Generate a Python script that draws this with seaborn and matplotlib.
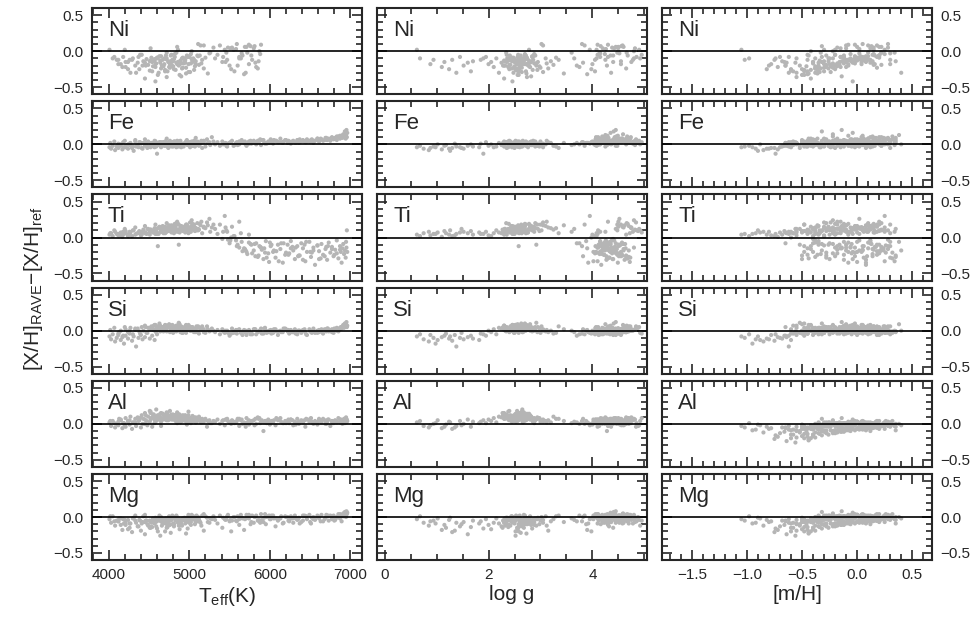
import numpy as np
import pandas as pd
import matplotlib
matplotlib.use('Agg')
import matplotlib.pyplot as plt
import seaborn as sns
from matplotlib.ticker import MultipleLocator

nan = np.nan

# one value per star; blocks of rows: metal-poor giants (3), giants (9),
# cool dwarfs (3), warm dwarfs (5), hot dwarfs (5), clump giants (6), dwarfs (6)
teff = [
    4010, 4030, 4050, 4080, 4100, 4120, 4150, 4170,
    4190, 4210, 4240, 4260, 4290, 4310, 4340, 4370,
    4400, 4420, 4450, 4480, 4510, 4540, 4570, 4600,
    4120, 4150, 4180, 4210, 4240, 4270, 4300, 4330,
    4360, 4380, 4410, 4430, 4450, 4470, 4490, 4510,
    4530, 4550, 4570, 4590, 4610, 4630, 4650, 4670,
    4690, 4700, 4720, 4740, 4750, 4770, 4780, 4800,
    4810, 4830, 4840, 4860, 4870, 4890, 4900, 4920,
    4930, 4950, 4960, 4980, 4990, 5010, 5020, 5040,
    5050, 5070, 5080, 5100, 5120, 5140, 5160, 5180,
    4460, 4520, 4580, 4640, 4710, 4760, 4820, 4880,
    4940, 5000, 5060, 5110, 5150, 5200, 5230, 5260,
    4020, 4070, 4130, 4200, 4260, 4330, 4390, 4450,
    4520, 4580, 4650, 4720, 4790, 4850, 4910, 4970,
    5030, 5080, 5130, 5180, 5220, 5250, 5280, 5300,
    5320, 5350, 5380, 5410, 5440, 5470, 5500, 5530,
    5560, 5590, 5620, 5650, 5680, 5710, 5740, 5770,
    5800, 5830, 5860, 5890, 5920, 5950, 5980, 6010,
    6040, 6070, 6100, 6130, 6160, 6190, 5460, 5520,
    5580, 5640, 5700, 5760, 5820, 5880, 5940, 6000,
    6220, 6240, 6260, 6290, 6310, 6340, 6360, 6390,
    6410, 6440, 6460, 6490, 6510, 6540, 6560, 6590,
    6610, 6640, 6660, 6690, 6710, 6730, 6750, 6770,
    6790, 6810, 6830, 6850, 6870, 6880, 6890, 6900,
    6910, 6920, 6930, 6940, 6945, 6950, 6955, 6960,
    4540, 4610, 4680, 4730, 4790, 4850, 4910, 4970,
    4560, 4620, 4690, 4760, 4820, 4880, 4950, 5030,
    4580, 4650, 4700, 4770, 4840, 4900, 4990, 5060,
    4600, 4660, 4720, 4780, 4860, 4920, 5000, 5080,
    4520, 4640, 4710, 4800, 4870, 4940, 5020, 5090,
    4570, 4670, 4740, 4810, 4890, 4960, 5040, 5110,
    5420, 5510, 5600, 5690, 5780, 5870, 5960, 6050,
    6140, 6230, 6320, 6410, 6500, 6590, 6680, 6770,
    5450, 5550, 5660, 5740, 5850, 5930, 6020, 6110,
    6200, 6280, 6370, 6450, 6540, 6630, 6720, 6830,
    5480, 5620, 5720, 5810, 5900, 5990, 6080, 6170,
    6260, 6350, 6430, 6520, 6610, 6700, 6800, 6870,
]

logg = [
    0.62, 0.75, 0.68, 0.85, 0.94, 0.88, 1.02, 1.10,
    0.98, 1.15, 1.24, 1.18, 1.30, 1.26, 1.38, 1.45,
    1.35, 1.52, 1.60, 1.48, 1.70, 1.66, 1.82, 1.90,
    1.85, 2.00, 1.95, 2.10, 2.05, 2.20, 2.15, 2.30,
    2.25, 2.40, 2.35, 2.45, 2.30, 2.50, 2.42, 2.55,
    2.48, 2.60, 2.52, 2.65, 2.58, 2.70, 2.45, 2.62,
    2.55, 2.72, 2.68, 2.50, 2.80, 2.62, 2.75, 2.58,
    2.70, 2.85, 2.60, 2.78, 2.92, 2.66, 2.82, 2.74,
    2.90, 2.76, 3.00, 2.84, 2.68, 3.05, 2.88, 2.95,
    3.10, 2.98, 3.20, 2.90, 3.25, 3.05, 3.35, 3.15,
    2.28, 2.38, 2.46, 2.52, 2.60, 2.64, 2.56, 2.72,
    2.80, 2.86, 2.94, 3.02, 3.12, 3.30, 3.45, 3.60,
    4.72, 4.85, 4.65, 4.90, 4.78, 4.60, 4.95, 4.70,
    4.82, 4.55, 4.88, 4.66, 4.75, 4.50, 4.92, 4.62,
    4.80, 4.45, 4.68, 4.58, 4.84, 4.52, 4.74, 4.48,
    3.65, 4.10, 3.85, 4.40, 3.95, 4.25, 3.70, 4.50,
    4.05, 3.80, 4.30, 4.15, 3.90, 4.45, 4.00, 4.35,
    4.20, 3.75, 4.55, 4.10, 4.28, 3.88, 4.38, 4.18,
    4.02, 4.32, 4.12, 4.42, 3.92, 4.22, 4.48, 3.98,
    4.26, 4.08, 4.36, 4.16, 3.82, 4.24, 4.06, 4.34,
    4.30, 4.50, 4.15, 4.60, 4.40, 4.20, 4.65, 4.35,
    4.45, 4.10, 4.55, 4.25, 4.70, 4.37, 4.17, 4.53,
    4.33, 4.63, 4.23, 4.47, 4.27, 4.57, 4.13, 4.43,
    4.51, 4.21, 4.39, 4.67, 4.29, 4.07, 4.49, 4.31,
    4.59, 4.19, 4.41, 4.73, 4.25, 4.45, 4.11, 4.35,
    2.35, 2.42, 2.50, 2.58, 2.46, 2.66, 2.54, 2.72,
    2.30, 2.48, 2.62, 2.40, 2.70, 2.56, 2.80, 2.44,
    2.38, 2.60, 2.52, 2.68, 2.34, 2.76, 2.64, 2.86,
    2.45, 2.32, 2.74, 2.57, 2.82, 2.49, 2.69, 2.61,
    2.27, 2.55, 2.41, 2.78, 2.63, 2.36, 2.88, 2.53,
    2.43, 2.67, 2.31, 2.59, 2.47, 2.73, 2.39, 2.84,
    4.15, 4.42, 4.28, 4.60, 4.05, 4.50, 4.33, 4.70,
    4.22, 4.48, 4.10, 4.62, 4.36, 4.18, 4.55, 4.26,
    4.75, 4.08, 4.40, 4.30, 4.65, 4.20, 4.52, 4.02,
    4.44, 4.12, 4.58, 4.34, 4.24, 4.68, 4.06, 4.46,
    4.38, 4.80, 4.14, 4.56, 4.32, 4.72, 4.16, 4.45,
    4.64, 4.27, 4.50, 4.09, 4.39, 4.19, 4.57, 4.29,
]

mh = [
    -1.05, -0.92, -0.98, -0.85, -1.02, -0.78, -0.88, -0.72,
    -0.95, -0.66, -0.82, -0.58, -0.75, -0.90, -0.62, -0.70,
    -0.55, -0.80, -0.64, -0.52, -0.68, -0.48, -0.60, -0.74,
    -0.45, -0.30, -0.62, -0.15, -0.40, -0.55, -0.25, -0.08,
    -0.35, -0.50, -0.20, -0.05, -0.42, 0.02, -0.28, -0.60,
    -0.12, -0.38, 0.05, -0.22, -0.48, -0.02, -0.33, 0.10,
    -0.18, -0.58, -0.26, 0.08, -0.10, -0.44, 0.15, -0.30,
    -0.06, -0.36, 0.12, -0.20, -0.52, 0.00, -0.14, 0.20,
    -0.40, -0.08, 0.18, -0.32, 0.04, -0.24, 0.25, -0.16,
    -0.02, -0.46, 0.14, -0.28, 0.22, -0.10, 0.30, -0.38,
    -0.65, -0.34, -0.04, -0.56, 0.06, -0.22, -0.12, 0.16,
    -0.26, 0.08, -0.48, 0.28, -0.18, 0.02, -0.36, 0.34,
    -0.20, 0.05, -0.35, 0.15, -0.10, 0.25, -0.45, 0.00,
    -0.15, 0.30, -0.28, 0.10, -0.05, 0.20, -0.38, 0.08,
    -0.22, 0.35, -0.12, 0.18, -0.30, 0.02, 0.12, -0.18,
    -0.55, -0.20, 0.10, -0.40, 0.25, -0.05, -0.65, 0.15,
    -0.30, 0.05, -0.15, 0.30, -0.45, 0.00, -0.25, 0.20,
    -0.10, -0.35, 0.35, -0.02, -0.50, 0.12, -0.18, 0.28,
    -0.08, -0.28, 0.18, -0.42, 0.08, -0.12, 0.22, -0.60,
    0.02, -0.22, 0.40, -0.32, 0.14, -0.06, 0.26, -0.38,
    -0.10, 0.20, -0.35, 0.05, -0.25, 0.30, -0.50, 0.12,
    -0.15, 0.25, -0.40, 0.00, 0.35, -0.20, 0.08, -0.30,
    0.18, -0.05, -0.45, 0.28, -0.12, 0.10, -0.28, 0.22,
    -0.02, 0.15, -0.38, 0.32, -0.18, 0.04, -0.08, 0.24,
    -0.22, 0.14, -0.32, 0.06, 0.38, -0.14, 0.20, -0.04,
    -0.32, 0.05, -0.18, -0.45, 0.12, -0.08, -0.26, 0.20,
    -0.12, -0.38, 0.02, -0.22, 0.15, -0.50, -0.04, 0.08,
    -0.28, 0.10, -0.42, -0.14, 0.22, -0.02, -0.34, 0.04,
    0.00, -0.20, -0.55, 0.14, -0.10, -0.30, 0.18, -0.16,
    -0.40, -0.06, 0.16, -0.24, -0.48, 0.06, -0.12, 0.25,
    0.09, -0.35, -0.02, -0.20, 0.11, -0.44, -0.08, 0.03,
    -0.15, 0.12, -0.35, 0.22, -0.05, -0.42, 0.30, 0.02,
    -0.25, 0.18, -0.10, 0.08, -0.48, 0.26, -0.20, 0.14,
    0.04, -0.30, 0.20, -0.08, -0.38, 0.10, -0.16, 0.34,
    -0.02, 0.16, -0.28, -0.12, 0.24, -0.44, 0.06, -0.22,
    0.28, -0.06, -0.33, 0.13, -0.18, 0.00, 0.21, -0.40,
    -0.14, 0.09, -0.26, 0.32, -0.04, 0.17, -0.36, 0.05,
]

ni = [
    0.02, nan, -0.10, nan, -0.12, -0.18, nan, -0.22,
    nan, -0.15, -0.25, nan, -0.12, nan, -0.30, -0.08,
    nan, -0.20, -0.16, nan, -0.14, -0.28, nan, -0.10,
    -0.12, -0.18, -0.08, -0.22, -0.15, -0.30, -0.10, -0.20,
    -0.16, -0.25, -0.05, -0.14, -0.38, -0.11, -0.19, -0.27,
    -0.09, -0.21, -0.13, -0.17, -0.33, -0.07, -0.24, -0.12,
    -0.18, -0.28, -0.10, -0.15, -0.22, -0.06, -0.19, -0.14,
    -0.11, -0.26, -0.16, 0.02, -0.20, -0.13, -0.35, -0.09,
    -0.17, -0.12, -0.23, -0.08, -0.18, -0.29, -0.04, -0.15,
    -0.10, -0.21, -0.14, -0.06, -0.19, 0.08, -0.12, -0.24,
    -0.20, -0.13, -0.42, -0.16, -0.11, -0.23, -0.08, -0.18,
    -0.14, -0.07, -0.26, 0.10, -0.17, -0.09, -0.31, -0.02,
    nan, -0.08, nan, 0.02, -0.12, nan, -0.05, nan,
    0.04, -0.18, nan, -0.02, nan, 0.06, -0.10, nan,
    0.00, nan, -0.06, 0.08, nan, -0.03, nan, 0.05,
    -0.10, -0.05, 0.08, -0.15, 0.02, -0.12, -0.20, 0.05,
    -0.28, 0.10, -0.08, -0.03, -0.32, 0.06, -0.18, -0.06,
    0.04, -0.22, -0.14, 0.09, nan, nan, nan, nan,
    nan, nan, nan, nan, nan, nan, -0.02, -0.25,
    0.03, -0.10, -0.30, 0.07, -0.16, -0.04, nan, nan,
    nan, nan, nan, nan, nan, nan, nan, nan,
    nan, nan, nan, nan, nan, nan, nan, nan,
    nan, nan, nan, nan, nan, nan, nan, nan,
    nan, nan, nan, nan, nan, nan, nan, nan,
    nan, nan, nan, nan, nan, nan, nan, nan,
    -0.15, -0.09, -0.21, -0.28, -0.12, -0.18, -0.24, -0.06,
    -0.13, -0.30, -0.10, -0.19, -0.04, -0.33, -0.16, -0.11,
    -0.22, -0.07, -0.26, -0.14, -0.02, -0.17, -0.29, -0.12,
    -0.09, -0.20, -0.36, -0.05, -0.15, -0.23, -0.08, -0.18,
    nan, -0.13, -0.06, -0.21, nan, -0.10, -0.17, nan,
    -0.11, nan, -0.14, -0.25, nan, -0.31, -0.12, -0.07,
    -0.08, 0.04, -0.20, 0.06, -0.12, 0.00, nan, nan,
    nan, nan, nan, nan, nan, nan, nan, nan,
    -0.15, 0.02, -0.06, 0.09, -0.24, nan, nan, nan,
    nan, nan, nan, nan, nan, nan, nan, nan,
    0.05, -0.10, -0.02, 0.07, nan, nan, nan, nan,
    nan, nan, nan, nan, nan, nan, nan, nan,
]

fe = [
    -0.04, -0.06, -0.02, -0.08, -0.03, -0.05, 0.00, -0.07,
    -0.04, -0.02, -0.06, -0.01, -0.05, -0.09, -0.03, -0.04,
    0.01, -0.06, -0.02, -0.05, -0.03, 0.00, -0.04, -0.13,
    0.01, -0.02, 0.03, -0.04, 0.00, 0.02, -0.03, 0.04,
    -0.01, 0.03, -0.05, 0.02, 0.00, -0.02, 0.04, -0.03,
    0.02, -0.01, 0.05, -0.03, 0.01, 0.03, -0.04, 0.00,
    -0.02, 0.04, 0.01, -0.05, 0.03, -0.01, 0.02, -0.03,
    0.03, 0.00, -0.04, 0.02, -0.02, 0.05, -0.01, 0.01,
    -0.03, 0.02, 0.04, -0.01, 0.00, -0.04, 0.03, 0.01,
    0.00, -0.03, 0.02, 0.04, -0.02, 0.01, -0.05, 0.03,
    0.02, -0.04, 0.01, 0.03, -0.01, 0.00, 0.04, -0.02,
    0.01, 0.03, -0.02, 0.00, 0.05, -0.03, 0.02, -0.01,
    0.02, 0.04, 0.00, 0.05, 0.01, 0.06, 0.03, 0.07,
    -0.01, 0.04, 0.02, 0.08, 0.03, 0.05, 0.00, 0.06,
    0.04, 0.09, 0.02, 0.05, 0.07, 0.03, 0.10, 0.04,
    0.00, 0.03, -0.02, 0.04, 0.01, -0.03, 0.02, 0.05,
    -0.01, 0.03, 0.00, 0.06, 0.02, -0.02, 0.04, 0.01,
    0.05, 0.00, 0.03, -0.01, 0.06, 0.02, 0.04, 0.07,
    0.01, 0.05, 0.03, 0.08, 0.02, 0.06, -0.02, 0.03,
    0.02, 0.04, 0.00, 0.05, 0.03, 0.07, 0.01, 0.04,
    0.02, 0.04, 0.01, 0.05, 0.03, 0.06, 0.02, 0.04,
    0.05, 0.03, 0.07, 0.04, 0.06, 0.02, 0.05, 0.08,
    0.04, 0.07, 0.05, 0.09, 0.06, 0.08, 0.05, 0.10,
    0.07, 0.09, 0.06, 0.11, 0.08, 0.10, 0.12, 0.09,
    0.14, 0.11, 0.18, 0.08, 0.13, 0.20, 0.10, 0.16,
    0.02, -0.01, 0.03, -0.03, 0.01, 0.04, -0.02, 0.00,
    -0.03, 0.02, 0.00, 0.05, -0.01, 0.03, 0.01, -0.02,
    0.04, 0.00, -0.02, 0.02, 0.03, -0.04, 0.01, 0.05,
    -0.01, 0.03, 0.02, -0.03, 0.04, 0.00, 0.02, -0.01,
    0.01, -0.02, 0.04, 0.02, -0.03, 0.01, 0.03, 0.00,
    0.03, 0.01, -0.01, 0.04, 0.00, 0.02, -0.02, 0.03,
    0.00, 0.03, -0.01, 0.04, 0.02, 0.05, 0.01, 0.06,
    0.03, 0.05, 0.02, 0.06, 0.04, 0.08, 0.06, 0.09,
    0.02, -0.02, 0.03, 0.01, 0.05, 0.02, 0.04, 0.03,
    0.06, 0.04, 0.07, 0.03, 0.05, 0.08, 0.07, 0.11,
    0.01, 0.04, 0.00, 0.03, 0.06, 0.02, 0.05, 0.04,
    0.03, 0.06, 0.04, 0.07, 0.05, 0.09, 0.08, 0.12,
]

ti = [
    0.04, 0.06, 0.02, 0.08, 0.05, 0.03, 0.07, 0.01,
    0.05, 0.09, 0.04, 0.06, 0.02, 0.10, 0.05, 0.07,
    0.03, 0.08, 0.06, 0.12, 0.04, 0.09, 0.07, 0.05,
    0.05, 0.03, 0.08, 0.06, 0.02, 0.07, 0.10, 0.04,
    0.06, 0.09, 0.04, 0.11, 0.07, 0.05, 0.12, 0.08,
    0.10, 0.07, 0.13, 0.09, -0.12, 0.15, 0.08, 0.11,
    0.12, 0.06, 0.14, 0.09, 0.17, 0.10, 0.07, 0.13,
    0.08, 0.15, 0.11, 0.19, -0.10, 0.12, 0.16, 0.09,
    0.13, 0.07, 0.18, 0.10, 0.14, 0.21, 0.08, 0.12,
    0.16, 0.09, 0.13, 0.20, 0.11, 0.17, 0.06, 0.14,
    0.07, 0.10, 0.05, 0.12, 0.08, 0.14, 0.11, 0.09,
    0.15, 0.12, 0.18, 0.10, 0.22, 0.13, 0.17, 0.08,
    0.06, 0.10, 0.04, 0.12, 0.08, 0.14, 0.07, 0.16,
    0.11, 0.18, 0.09, 0.20, 0.13, 0.22, 0.10, 0.17,
    0.24, 0.12, 0.19, 0.15, 0.21, 0.26, 0.14, 0.18,
    0.12, 0.05, 0.18, -0.02, 0.30, 0.08, -0.08, 0.15,
    0.02, -0.12, 0.22, -0.06, -0.15, -0.20, 0.04, -0.10,
    -0.18, -0.08, -0.25, -0.14, -0.30, -0.05, -0.22, -0.12,
    -0.20, -0.28, -0.10, -0.16, -0.35, -0.24, 0.10, 0.00,
    -0.04, 0.06, -0.18, -0.09, -0.26, -0.13, -0.21, -0.07,
    -0.10, -0.22, -0.05, -0.18, -0.30, -0.12, -0.25, -0.08,
    -0.15, -0.33, -0.20, -0.06, -0.27, -0.14, -0.38, -0.11,
    -0.19, -0.09, -0.24, -0.16, -0.31, -0.07, -0.21, -0.13,
    -0.26, -0.17, -0.04, -0.29, -0.12, -0.20, -0.35, -0.15,
    -0.09, -0.23, -0.18, -0.28, -0.06, -0.14, 0.10, -0.20,
    0.09, 0.13, 0.06, 0.11, 0.16, 0.08, 0.12, 0.18,
    0.10, 0.05, 0.14, 0.09, 0.19, 0.07, 0.13, 0.16,
    0.12, 0.08, 0.15, 0.10, 0.20, 0.11, 0.06, 0.14,
    0.07, 0.12, 0.09, 0.17, 0.11, 0.15, 0.08, 0.13,
    0.11, 0.14, 0.07, 0.12, 0.18, 0.09, 0.15, 0.10,
    0.08, 0.16, 0.12, 0.06, 0.14, 0.10, 0.19, 0.12,
    0.08, -0.04, -0.10, -0.16, -0.22, -0.12, -0.28, -0.18,
    -0.08, -0.24, -0.14, -0.31, -0.20, -0.11, -0.26, -0.16,
    0.14, 0.02, -0.19, -0.07, -0.27, -0.15, -0.10, -0.33,
    -0.21, -0.13, -0.25, -0.06, -0.18, -0.29, -0.12, -0.22,
    -0.03, -0.14, -0.23, -0.09, -0.17, -0.34, -0.19, -0.08,
    -0.15, -0.26, -0.10, -0.21, -0.30, -0.13, -0.24, -0.17,
]

si = [
    -0.08, -0.12, -0.05, -0.15, -0.10, -0.06, -0.13, -0.09,
    -0.18, -0.07, -0.11, -0.04, -0.14, -0.08, -0.22, -0.10,
    -0.06, -0.12, -0.09, -0.03, -0.11, -0.07, -0.13, -0.05,
    -0.04, 0.00, -0.07, 0.02, -0.02, 0.04, -0.05, 0.01,
    0.03, -0.01, 0.05, 0.00, 0.07, -0.03, 0.04, 0.02,
    0.06, 0.01, 0.08, -0.02, 0.04, 0.10, 0.00, 0.05,
    0.02, 0.07, -0.01, 0.05, 0.09, 0.03, 0.06, -0.03,
    0.04, 0.00, 0.07, 0.02, 0.11, -0.02, 0.05, 0.03,
    0.01, 0.06, -0.03, 0.04, 0.08, 0.00, 0.03, 0.05,
    -0.01, 0.03, 0.00, 0.05, -0.04, 0.02, 0.06, -0.02,
    0.05, 0.02, 0.08, -0.01, 0.04, 0.07, 0.01, 0.03,
    0.00, 0.04, -0.02, 0.06, 0.01, -0.03, 0.02, 0.00,
    0.01, 0.04, -0.02, 0.05, 0.00, 0.03, -0.04, 0.06,
    0.02, -0.01, 0.04, 0.07, 0.00, 0.03, -0.03, 0.05,
    0.01, -0.02, 0.04, 0.02, 0.06, -0.01, 0.03, 0.00,
    -0.02, 0.01, -0.05, 0.02, -0.03, 0.00, -0.07, 0.03,
    -0.01, -0.04, 0.02, -0.02, 0.01, -0.06, 0.00, -0.03,
    0.02, -0.05, -0.01, 0.03, -0.04, 0.00, -0.02, 0.01,
    -0.03, 0.02, -0.06, 0.00, -0.02, 0.03, -0.01, -0.04,
    0.01, -0.03, 0.00, -0.05, 0.02, -0.01, 0.04, -0.02,
    -0.01, -0.04, 0.01, -0.02, 0.02, -0.05, 0.00, -0.03,
    0.01, -0.02, -0.06, 0.02, -0.01, 0.03, -0.03, 0.00,
    -0.02, 0.02, -0.04, 0.01, 0.03, -0.01, 0.00, 0.02,
    -0.03, 0.01, 0.04, -0.01, 0.02, 0.05, 0.03, 0.06,
    0.08, 0.04, 0.10, 0.06, 0.09, 0.12, 0.05, 0.07,
    0.03, 0.06, -0.01, 0.04, 0.08, 0.02, 0.05, 0.00,
    0.07, 0.02, 0.04, -0.02, 0.06, 0.09, 0.01, 0.05,
    0.02, 0.05, 0.08, 0.03, -0.01, 0.06, 0.04, 0.01,
    0.05, 0.00, 0.07, 0.03, 0.04, -0.03, 0.06, 0.02,
    0.04, 0.07, 0.01, 0.05, 0.10, 0.03, 0.00, 0.06,
    0.01, 0.04, 0.06, 0.02, 0.05, 0.08, 0.03, -0.01,
    -0.01, -0.04, 0.01, -0.02, -0.05, 0.00, -0.03, 0.02,
    -0.02, 0.01, -0.04, 0.00, -0.01, -0.03, 0.02, -0.02,
    0.00, -0.03, -0.06, 0.01, -0.02, 0.03, -0.04, -0.01,
    0.02, -0.02, 0.00, -0.05, 0.01, -0.01, 0.03, 0.00,
    -0.03, 0.01, -0.02, 0.02, -0.04, 0.00, -0.01, 0.03,
    -0.02, 0.00, 0.02, -0.03, 0.01, -0.01, 0.03, 0.04,
]

al = [
    0.02, -0.03, 0.04, -0.05, 0.00, -0.02, 0.05, -0.06,
    0.01, -0.04, 0.03, -0.01, -0.07, 0.02, -0.03, 0.04,
    -0.05, 0.00, 0.06, -0.02, 0.03, -0.04, 0.01, 0.05,
    0.03, 0.06, 0.01, 0.08, 0.04, 0.10, 0.02, 0.07,
    0.09, 0.05, 0.12, 0.07, 0.15, 0.04, 0.10, 0.18,
    0.08, 0.13, 0.06, 0.20, 0.09, 0.11, 0.03, 0.14,
    0.07, 0.12, 0.16, 0.05, 0.10, 0.08, 0.13, 0.06,
    0.11, 0.04, 0.09, 0.14, 0.07, 0.02, 0.10, 0.06,
    0.05, 0.09, 0.03, 0.08, 0.12, 0.06, 0.01, 0.07,
    0.04, 0.08, 0.02, 0.06, 0.10, 0.03, 0.07, 0.05,
    0.12, 0.17, 0.09, 0.14, 0.06, 0.11, 0.08, 0.13,
    0.06, 0.03, 0.09, 0.05, 0.02, 0.07, 0.04, 0.01,
    0.04, 0.01, 0.07, -0.02, 0.05, 0.02, 0.08, 0.00,
    0.06, 0.03, -0.03, 0.05, 0.09, 0.01, 0.04, -0.01,
    0.06, 0.02, 0.07, 0.03, -0.04, 0.05, 0.01, 0.04,
    0.03, 0.06, 0.00, 0.04, -0.02, 0.07, 0.02, 0.05,
    0.01, 0.04, -0.03, 0.06, 0.02, 0.08, -0.01, 0.03,
    0.05, 0.00, 0.07, 0.02, -0.10, 0.04, 0.06, 0.01,
    0.03, -0.02, 0.05, 0.08, 0.01, 0.04, 0.06, 0.00,
    0.02, 0.05, -0.04, 0.03, 0.07, 0.01, 0.04, -0.01,
    0.04, 0.01, 0.06, -0.02, 0.03, 0.07, 0.00, 0.05,
    0.02, -0.04, 0.06, 0.03, 0.08, 0.01, 0.04, -0.01,
    0.05, 0.02, 0.07, 0.00, 0.03, 0.06, -0.03, 0.04,
    0.01, 0.05, 0.03, 0.08, 0.02, 0.06, 0.04, 0.00,
    0.03, 0.07, 0.01, 0.05, 0.09, 0.02, 0.06, 0.04,
    0.09, 0.12, 0.06, 0.14, 0.08, 0.16, 0.10, 0.05,
    0.13, 0.07, 0.11, 0.18, 0.09, 0.04, 0.12, 0.08,
    0.06, 0.15, 0.10, 0.07, 0.13, 0.09, 0.17, 0.05,
    0.11, 0.08, 0.14, 0.06, 0.10, 0.12, 0.04, 0.09,
    0.15, 0.07, 0.10, 0.13, 0.06, 0.11, 0.08, 0.03,
    0.10, 0.14, 0.07, 0.12, 0.05, 0.09, 0.11, 0.06,
    0.05, 0.02, 0.07, 0.00, 0.04, 0.08, 0.01, 0.05,
    0.03, 0.06, -0.01, 0.04, 0.07, 0.02, 0.05, 0.03,
    0.06, 0.03, 0.00, 0.05, 0.09, 0.02, 0.04, 0.06,
    0.01, 0.05, 0.03, 0.07, 0.00, 0.04, 0.06, 0.02,
    0.04, 0.07, 0.02, -0.02, 0.05, 0.03, 0.08, 0.01,
    0.06, 0.02, 0.05, 0.03, 0.07, 0.00, 0.04, 0.06,
]

mg = [
    -0.03, -0.08, 0.01, -0.12, -0.05, -0.06, -0.02, -0.18,
    -0.09, -0.11, -0.04, -0.15, -0.21, -0.01, -0.08, -0.13,
    -0.19, -0.07, -0.24, -0.10, -0.05, -0.14, -0.09, -0.16,
    -0.06, -0.11, -0.03, -0.08, -0.17, -0.09, -0.02, -0.05,
    -0.13, -0.04, -0.09, 0.01, -0.07, -0.05, -0.12, -0.15,
    -0.08, -0.02, -0.05, -0.13, -0.20, 0.02, -0.06, -0.03,
    -0.03, -0.08, -0.15, -0.06, 0.01, -0.22, -0.04, -0.10,
    -0.10, -0.05, 0.02, -0.01, -0.12, -0.07, -0.11, -0.02,
    -0.03, -0.09, -0.05, -0.16, 0.03, -0.04, -0.07, -0.01,
    0.01, -0.10, -0.06, -0.02, -0.03, -0.08, 0.02, -0.19,
    -0.05, -0.14, -0.07, -0.26, -0.02, -0.10, 0.00, -0.04,
    -0.04, -0.08, -0.03, 0.00, -0.12, 0.01, -0.07, -0.02,
    0.01, -0.06, -0.02, -0.04, -0.09, 0.02, -0.05, 0.03,
    -0.07, -0.01, 0.00, -0.05, 0.02, -0.03, -0.12, -0.02,
    0.03, 0.00, -0.06, 0.04, -0.01, -0.08, -0.03, 0.01,
    -0.04, -0.09, 0.02, -0.15, -0.03, 0.01, -0.06, -0.05,
    0.00, -0.06, -0.11, -0.01, -0.18, 0.03, -0.02, -0.07,
    -0.08, 0.02, -0.04, 0.04, -0.07, -0.10, 0.01, -0.03,
    0.02, -0.13, -0.05, -0.02, -0.09, 0.01, -0.03, -0.20,
    -0.05, 0.03, -0.02, -0.10, 0.00, -0.08, 0.04, -0.03,
    0.00, -0.06, -0.02, -0.08, 0.02, -0.04, -0.01, -0.07,
    -0.05, 0.01, -0.03, 0.03, -0.09, 0.00, -0.04, 0.02,
    -0.02, 0.03, -0.06, -0.01, 0.01, -0.05, 0.02, -0.03,
    0.02, -0.04, 0.00, 0.04, -0.02, 0.03, -0.06, 0.01,
    0.05, 0.01, 0.07, 0.03, 0.00, 0.08, 0.04, 0.06,
    -0.05, -0.02, -0.09, -0.14, 0.00, -0.06, -0.03, -0.01,
    -0.08, -0.04, -0.07, -0.11, -0.02, -0.17, -0.05, 0.01,
    -0.03, -0.06, -0.20, -0.04, -0.01, -0.09, -0.07, -0.03,
    -0.06, -0.12, -0.10, 0.00, -0.08, -0.04, -0.02, -0.07,
    -0.15, -0.03, -0.05, -0.09, -0.06, -0.01, -0.11, 0.02,
    -0.04, -0.08, -0.02, -0.13, -0.05, -0.23, -0.03, -0.06,
    -0.01, -0.04, 0.01, -0.03, 0.02, -0.06, 0.00, -0.02,
    0.01, -0.05, -0.02, 0.02, -0.07, 0.00, -0.03, 0.01,
    -0.04, 0.00, -0.02, 0.03, -0.05, -0.01, 0.02, -0.03,
    0.00, -0.02, -0.09, 0.01, -0.03, -0.06, 0.02, -0.01,
    0.03, -0.03, -0.01, 0.00, -0.04, 0.02, -0.02, -0.08,
    0.01, -0.03, 0.02, -0.01, 0.00, 0.03, -0.05, 0.04,
]

elements = ['Ni', 'Fe', 'Ti', 'Si', 'Al', 'Mg']

df = pd.DataFrame({'teff': teff, 'logg': logg, 'mh': mh,
                   'Ni': ni, 'Fe': fe, 'Ti': ti, 'Si': si, 'Al': al, 'Mg': mg})

sns.set_style('ticks')
plt.rcParams['font.family'] = ['Liberation Sans', 'DejaVu Sans']
plt.rcParams['mathtext.fontset'] = 'custom'
plt.rcParams['mathtext.rm'] = 'Liberation Sans'
plt.rcParams['axes.linewidth'] = 1.5

fig, axes = plt.subplots(6, 3, figsize=(9.76, 6.21), dpi=100)
fig.subplots_adjust(left=0.094, right=0.955, top=0.987, bottom=0.098,
                    wspace=0.056, hspace=0.08)

xcols = ['teff', 'logg', 'mh']
xlims = [(3790, 7140), (-0.15, 5.05), (-1.77, 0.68)]
xmajor = [1000, 2, 0.5]
xminor = [200, 0.5, 0.1]
xlabels = [r'T$_{\rm eff}$(K)', 'log g', '[m/H]']

for i, el in enumerate(elements):
    for j, xc in enumerate(xcols):
        ax = axes[i, j]
        ycol = el
        if el == 'Al' and xc == 'mh':
            # the published Al/[m/H] panel repeats the Mg points
            ycol = 'Mg'
        sns.scatterplot(data=df, x=xc, y=ycol, ax=ax, color='#b5b5b5',
                        s=9, linewidth=0, edgecolor='none')
        ax.axhline(0, color='black', lw=1.2, zorder=3)
        ax.set_xlim(xlims[j])
        ax.set_ylim(-0.6, 0.6)
        ax.xaxis.set_major_locator(MultipleLocator(xmajor[j]))
        ax.xaxis.set_minor_locator(MultipleLocator(xminor[j]))
        ax.yaxis.set_major_locator(MultipleLocator(0.5))
        ax.yaxis.set_minor_locator(MultipleLocator(0.1))
        ax.tick_params(which='both', direction='in', top=True, right=True,
                       width=1.2, labelsize=11, pad=6)
        ax.tick_params(which='major', length=7)
        ax.tick_params(which='minor', length=4.5)
        ax.tick_params(axis='y', labelleft=(j == 0), labelright=(j == 2))
        ax.tick_params(axis='x', labelbottom=(i == 5))
        ax.set_ylabel('')
        if i == 5:
            ax.set_xlabel(xlabels[j], fontsize=15, labelpad=2)
        else:
            ax.set_xlabel('')
        ax.text(0.06, 0.86, el, transform=ax.transAxes, fontsize=16,
                ha='left', va='top')

fig.text(0.034, 0.535, r'[X/H]$_{\rm RAVE}$$-$[X/H]$_{\rm ref}$', rotation=90,
         ha='center', va='center', fontsize=15)

fig.savefig('out.png', dpi=100)
